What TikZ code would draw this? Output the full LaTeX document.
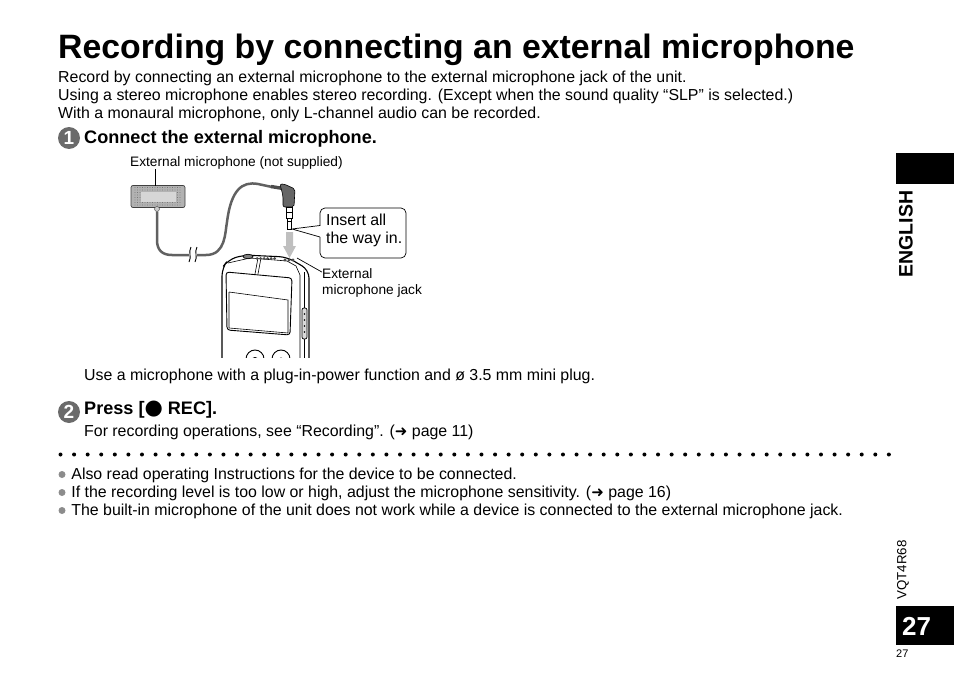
\documentclass[tikz,border=0pt]{standalone}
\usepackage{fontspec}
\setmainfont{Liberation Sans}
\newfontfamily\symfont{DejaVu Sans}
\usetikzlibrary{positioning}
\newcommand{\goto}{{\symfont\fontsize{15}{15}\selectfont ➜}}
\begin{document}
\begin{tikzpicture}[x=1pt, y=-1pt]
\tikzstyle{body}=[anchor=base west, inner sep=0pt, font=\fontsize{15.9}{18}\selectfont]
\tikzstyle{small}=[anchor=base west, inner sep=0pt, font=\fontsize{13.7}{16}\selectfont, align=left]
\tikzstyle{head}=[anchor=base west, inner sep=0pt, font=\bfseries\fontsize{18.1}{20}\selectfont]
\tikzstyle{num}=[circle, fill=black!58, text=white, inner sep=0pt, minimum size=22pt, font=\bfseries\fontsize{19}{19}\selectfont]
\tikzstyle{spot}=[circle, fill=black!45, inner sep=0pt, minimum size=7pt]
\tikzstyle{tab}=[rectangle, fill=black, inner sep=0pt]
\tikzstyle{lead}=[line width=0.7pt]
\tikzstyle{cord}=[line width=2.5pt, black!62]
\useasboundingbox (0,0) rectangle (954,677);
    % title and intro
    \node[anchor=base west, inner sep=0pt, font=\bfseries\fontsize{33.8}{40}\selectfont] (title) at (58,59) {Recording by connecting an external microphone};
    \node[body] (introa) at (58,82.5) {Record by connecting an external microphone to the external microphone jack of the unit.};
    \node[body] (introb) at (58,100) {Using a stereo microphone enables stereo recording. (Except when the sound quality “SLP” is selected.)};
    \node[body] (introc) at (58,118) {With a monaural microphone, only L-channel audio can be recorded.};
    % step 1
    \node[num] (one) at (69,138) {1};
    \node[head] (connect) at (84,143) {Connect the external microphone.};
    \node[small] (mictext) at (130,166) {External microphone (not supplied)};
    % microphone
    \node[rectangle, rounded corners=2pt, draw=black!75, fill=black!30, minimum width=54pt, minimum height=22pt, inner sep=0pt, line width=0.7pt] (mic) at (158,196.5) {};
    \foreach \x in {135,137.5,...,182} {
        \foreach \y in {187.5,190,...,206} {
            \fill[black!65] (\x,\y) circle (0.45pt);
        }
    }
    \fill[black!16] (141,192) rectangle (176,202);
    \node[circle, draw=black!75, fill=black!20, inner sep=0pt, minimum size=5pt] (stub) at (157,209) {};
    \draw[lead] (155,169) -- (155,186);
    % cable
    \draw[cord] (stub) -- (157,240) .. controls (157,250) and (162,255) .. (172,255) -- (189,255);
    \draw[cord] (197,255) -- (206,255) .. controls (226,255) and (225,232) .. (227,222) .. controls (231,190) and (242,181) .. (258,184) -- (272,187);
    \draw[line width=0.9pt] (191,247) .. controls (188,252) and (192,257) .. (189,262);
    \draw[line width=0.9pt] (197,247) .. controls (194,252) and (198,257) .. (195,262);
    % plug
    \draw[black!70, line width=3.4pt] (271,186.5) -- (283,188.5);
    \draw[black, fill=black!60, line width=0.6pt, rounded corners=2pt] (280,184) -- (284,184) -- (295,189) -- (294,207) -- (283,207) -- (283,196) -- cycle;
    \draw[line width=0.6pt, fill=white] (286,207) rectangle (292,218);
    \draw[line width=0.6pt, fill=white] (287,218) rectangle (291,229);
    \draw[line width=0.9pt] (287,212) -- (292,212) (287,221) -- (291,221);
    \coordinate (tip) at (292,229);
    % arrow
    \fill[black!25] (286,232) -- (293,232) -- (293,246) -- (296,246) -- (289.5,258) -- (283,246) -- (286,246) -- cycle;
    % callout
    \node[rectangle, rounded corners=5pt, draw, line width=0.7pt, minimum width=86pt, minimum height=50pt, inner sep=0pt] (callout) at (363,233) {};
    \fill[white] (319,226) rectangle (322,237);
    \draw[lead] (320,225.5) -- (tip) -- (320,237);
    \node[small, font=\fontsize{15.9}{18}\selectfont] (inserta) at (326,225) {Insert all};
    \node[small, font=\fontsize{15.9}{18}\selectfont] (insertb) at (326,243) {the way in.};
    % recorder
    \begin{scope}
    \clip (215,250) rectangle (315,357);
    \draw[line width=1.1pt, rounded corners=8pt] (222,360) -- (222,268) -- (228,260) -- (243,255) -- (287,257) -- (309,270) -- (309,360);
    \draw[line width=0.6pt] (300,360) -- (300,275) -- (296,266) -- (287,261) -- (250,258) -- (228,263);
    \draw[line width=0.6pt] (304,360) -- (304,272);
    \draw[line width=0.9pt, rounded corners=3pt] (226,272) -- (292,278) -- (290,335) -- (227,330) -- cycle;
    \draw[line width=0.6pt] (229,292) -- (288,300) -- (288,333) (229,292) -- (229,328) -- (288,333);
    \draw[line width=0.6pt] (258,258) -- (255,274) (261,258) -- (258,274);
    \draw[line width=0.7pt, fill=black!15, rounded corners=2pt] (302,308) rectangle (307,339);
    \foreach \y in {314,320,...,332} {
        \fill (304.5,\y) circle (0.9pt);
    }
    \draw[line width=0.9pt] (255,359) circle (9pt) (255,361) circle (3.5pt);
    \draw[line width=0.9pt] (281,359) circle (9pt) (281,361) circle (3pt);
    \draw[line width=0.7pt, fill=black!50] (248,256.5) ellipse (5pt and 2.2pt);
    \foreach \x in {257,260.5,...,275} {
        \fill[black!70] (\x,258.5) circle (1.5pt);
    }
    \foreach \x in {285,289,293} {
        \fill[black!70] (\x,260) circle (1.6pt);
    }
    \end{scope}
    % jack label
    \node[small] (jacka) at (322,278) {External};
    \node[small] (jackb) at (322,294) {microphone jack};
    \draw[lead] (jacka.west) ++(0,-1) -- (297,258);
    % use note and step 2
    \node[body] (usenote) at (84,380) {Use a microphone with a plug-in-power function and ø 3.5 mm mini plug.};
    \node[num] (two) at (69,412) {2};
    \node[head] (press) at (84,414) {Press [{\symfont\fontsize{21}{21}\selectfont ●} REC].};
    \node[body] (foropr) at (84,436) {For recording operations, see “Recording”. (\goto{} page 11)};
    % dotted rule
    \foreach \i in {0,...,61} {
        \fill ({60.5+\i*13.58},454.5) circle (2pt);
    }
    % notes
    \node[spot] (spota) at (62,474.5) {};
    \node[body, right=5.5pt of spota.east, anchor=west, yshift=-1pt] (notea) {\strut Also read operating Instructions for the device to be connected.};
    \node[spot] (spotb) at (62,492.5) {};
    \node[body, right=5.5pt of spotb.east, anchor=west, yshift=-1pt] (noteb) {\strut If the recording level is too low or high, adjust the microphone sensitivity. (\goto{} page 16)};
    \node[spot] (spotc) at (62,510.5) {};
    \node[body, right=5.5pt of spotc.east, anchor=west, yshift=-1pt] (notec) {\strut The built-in microphone of the unit does not work while a device is connected to the external microphone jack.};
    % side tabs
    \node[tab, minimum width=58pt, minimum height=31pt] (tabtop) at (925,168.5) {};
    \node[rotate=90, inner sep=0pt, font=\bfseries\fontsize{19.5}{19.5}\selectfont] (english) at (906,234) {ENGLISH};
    \node[rotate=90, inner sep=0pt, font=\fontsize{13.3}{13.3}\selectfont] (model) at (903,570) {VQT4R68};
    \node[tab, minimum width=58pt, minimum height=39pt] (tabpage) at (925,625.5) {};
    \node[anchor=base west, inner sep=0pt, text=white, font=\bfseries\fontsize{26}{27}\selectfont] (pagebig) at (902,635) {27};
    \node[anchor=base west, inner sep=0pt, font=\fontsize{11}{11}\selectfont] (pagesmall) at (896,657) {27};
\end{tikzpicture}
\end{document}
